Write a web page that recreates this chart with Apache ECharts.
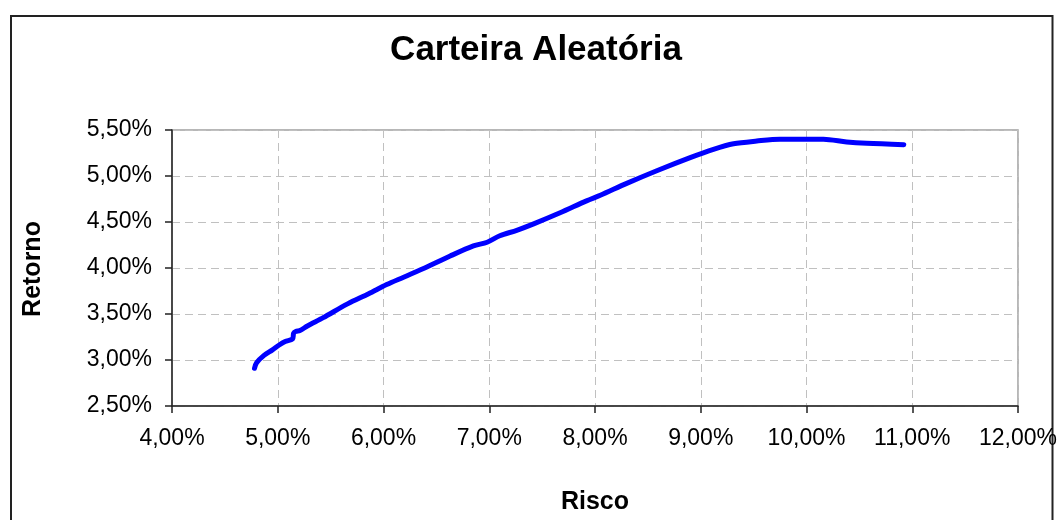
<!DOCTYPE html>
<html>
<head>
<meta charset="utf-8">
<script src="https://cdn.jsdelivr.net/npm/echarts@6/dist/echarts.min.js"></script>
<style>
html,body{margin:0;padding:0;background:#fff;}
#chart{width:1058px;height:520px;}
</style>
</head>
<body>
<div id="chart"></div>
<script>
var title = 'Carteira Aleatória';
var xTitle = 'Risco';
var yTitle = 'Retorno';
var risco = [4.78, 4.80, 4.87, 4.95, 5.01, 5.07, 5.14, 5.15, 5.17, 5.21, 5.28, 5.43, 5.66, 5.86, 6.03, 6.19, 6.41, 6.63, 6.85, 6.98, 7.10, 7.26, 7.42, 7.67, 7.92, 8.05, 8.30, 8.59, 8.90, 9.12, 9.31, 9.53, 9.75, 10.16, 10.38, 10.57, 10.92];
var retorno = [2.91, 2.97, 3.05, 3.11, 3.16, 3.20, 3.23, 3.29, 3.31, 3.32, 3.37, 3.46, 3.61, 3.72, 3.82, 3.90, 4.01, 4.13, 4.24, 4.28, 4.35, 4.41, 4.48, 4.60, 4.73, 4.79, 4.92, 5.06, 5.20, 5.29, 5.35, 5.38, 5.40, 5.40, 5.37, 5.355, 5.34];

var pts = risco.map(function(x, i){ return [x, retorno[i]]; });
function fmt(v){ return v.toFixed(2).replace('.', ',') + '%'; }
var font = 'Liberation Sans, Arial, sans-serif';

var chart = echarts.init(document.getElementById('chart'));
chart.setOption({
  animation: false,
  backgroundColor: '#fff',
  textStyle: { fontFamily: font },
  title: {
    text: title, left: 531, top: 28, textAlign: 'center',
    textStyle: { fontSize: 35, fontWeight: 'bold', color: '#000', fontFamily: font }
  },
  graphic: [{
    type: 'rect', silent: true,
    shape: { x: 11, y: 16, width: 1041.5, height: 540 },
    style: { fill: 'none', stroke: '#222', lineWidth: 2 }
  }, {
    type: 'text', silent: true,
    x: 33, y: 269, rotation: Math.PI / 2,
    style: { text: yTitle, fontSize: 25, fontWeight: 'bold', fill: '#000', fontFamily: font, align: 'center', verticalAlign: 'middle' }
  }],
  grid: {
    left: 172, right: 40, top: 130, bottom: 114,
    outerBoundsMode: 'none', containLabel: false,
    show: true, borderColor: '#a0a0a0', borderWidth: 1.5
  },
  xAxis: {
    type: 'value', min: 4, max: 12, interval: 1,
    name: xTitle, nameLocation: 'middle', nameGap: 84,
    nameTextStyle: { fontSize: 25, fontWeight: 'bold', color: '#000', fontFamily: font },
    axisLine: { show: true, lineStyle: { color: '#222', width: 1.5 } },
    axisTick: { show: true, length: 7, lineStyle: { color: '#222', width: 1.5 } },
    axisLabel: { fontSize: 23, color: '#000', margin: 21, formatter: fmt, fontFamily: font },
    splitLine: { show: true, lineStyle: { color: '#c0c0c0', type: [8, 5], width: 1 } }
  },
  yAxis: {
    type: 'value', min: 2.5, max: 5.5, interval: 0.5,
    axisLine: { show: true, lineStyle: { color: '#222', width: 1.5 } },
    axisTick: { show: true, length: 7, lineStyle: { color: '#222', width: 1.5 } },
    axisLabel: { fontSize: 23, color: '#000', margin: 20, formatter: fmt, fontFamily: font },
    splitLine: { show: true, lineStyle: { color: '#c0c0c0', type: [8, 5], width: 1 } }
  },
  series: [{
    type: 'line', data: pts, showSymbol: false, smooth: 0.3,
    lineStyle: { color: '#0000ff', width: 5, cap: 'round', join: 'round' }
  }]
});
</script>
</body>
</html>
